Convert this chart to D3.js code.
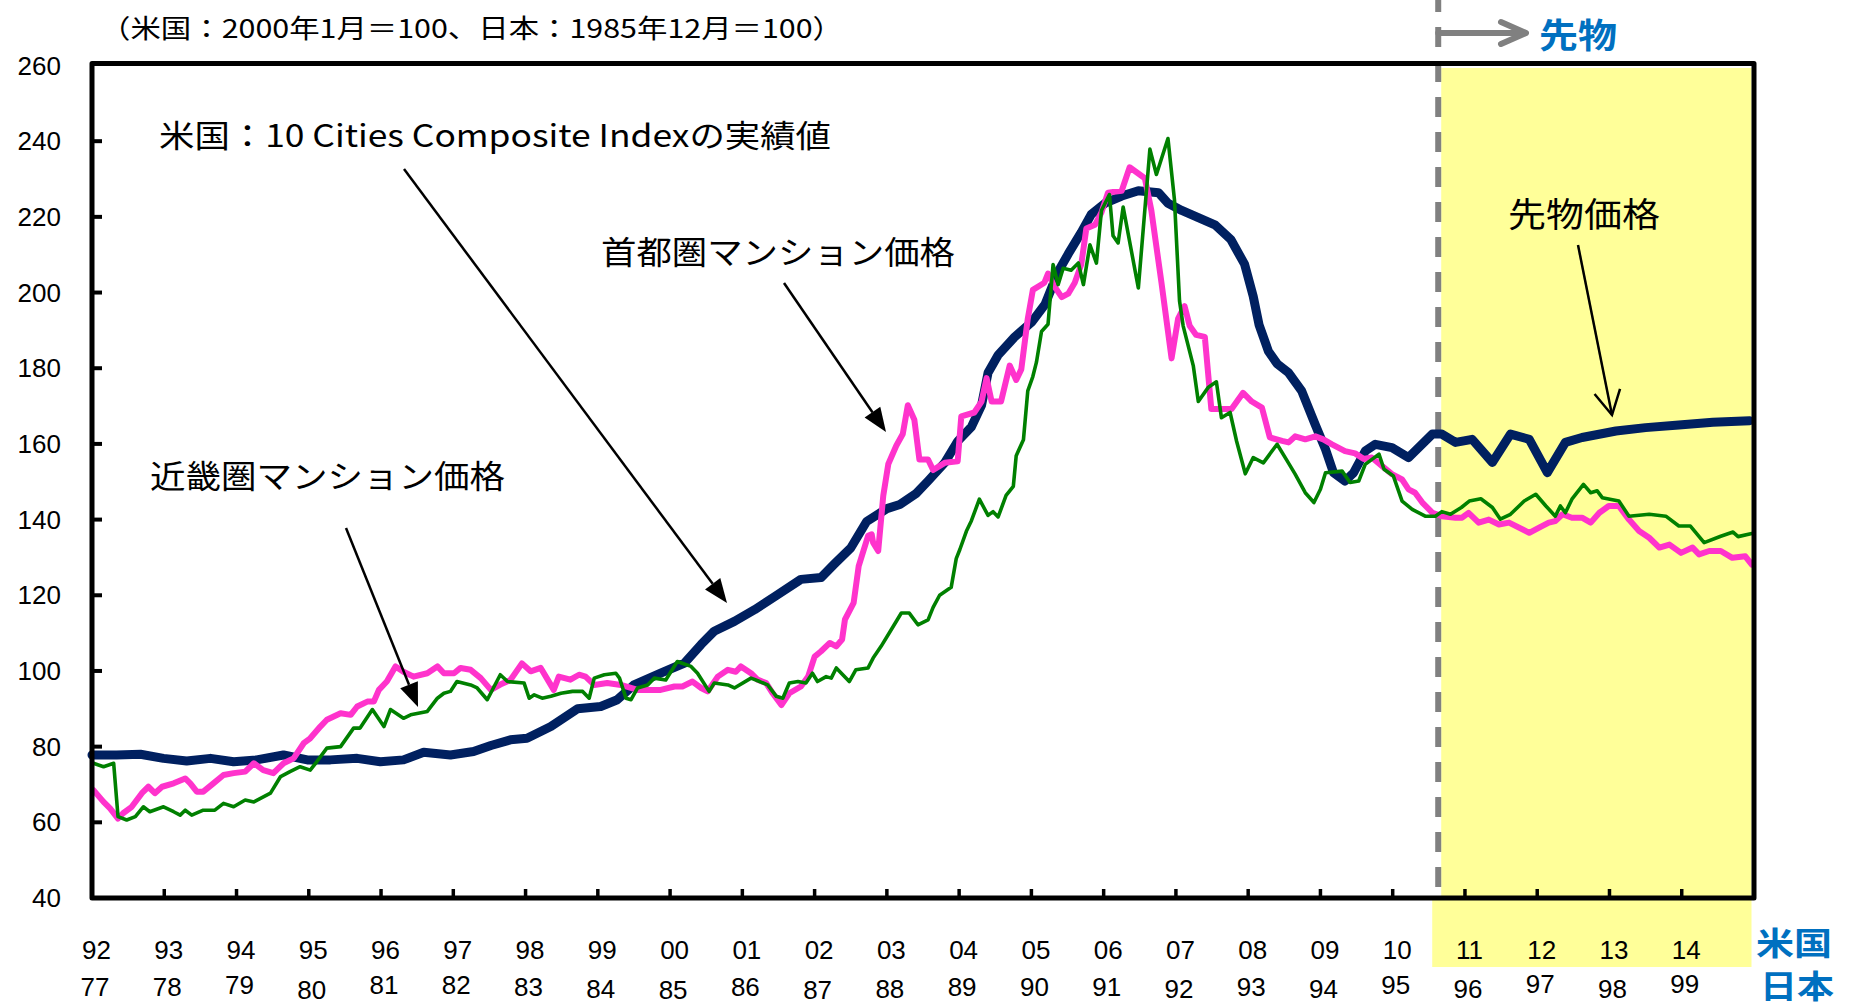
<!DOCTYPE html>
<html><head><meta charset="utf-8">
<script src="https://cdn.jsdelivr.net/npm/d3@7"></script>
<style>body{margin:0;background:#fff;} svg{display:block;}</style>
</head><body>
<svg id="chart" width="1849" height="1007"></svg>
<script>
// ---------------- DATA ----------------
// US: S&P/Case-Shiller 10 Cities Composite (2000-01 = 100), decimal year
const usYear = [1992.00,1992.34,1992.67,1992.99,1993.31,1993.64,1993.96,1994.28,1994.65,1994.98,1995.30,1995.67,1995.99,1996.31,1996.59,1996.96,1997.28,1997.52,1997.79,1998.02,1998.35,1998.72,1999.04,1999.27,1999.50,1999.87,2000.20,2000.43,2000.61,2000.89,2001.17,2001.45,2001.81,2002.09,2002.28,2002.50,2002.72,2003.00,2003.18,2003.40,2003.57,2003.80,2003.98,2004.17,2004.31,2004.40,2004.54,2004.77,2005.00,2005.19,2005.37,2005.51,2005.69,2005.83,2006.02,2006.25,2006.48,2006.76,2006.89,2007.08,2007.31,2007.54,2007.76,2007.95,2008.07,2008.15,2008.28,2008.40,2008.56,2008.74,2008.93,2009.07,2009.18,2009.34,2009.46,2009.62,2009.76,2009.99,2010.22,2010.55,2010.68,2010.87,2011.10,2011.38,2011.63,2011.89,2012.14,2012.39,2012.62,2013.09,2013.50,2013.96,2014.43,2014.94];
const usValue = [77.8,77.8,78.0,76.9,76.2,76.9,76.0,76.5,77.8,76.5,76.5,76.9,76.0,76.5,78.5,77.8,78.7,80.3,81.8,82.2,85.3,90.0,90.6,92.4,96.3,99.4,102.1,107.0,110.5,113.1,116.2,119.7,124.2,124.7,128.4,132.5,139.5,142.9,144.0,146.8,150.2,155.0,160.7,164.5,170.2,178.8,183.5,188.3,192.1,196.9,205.5,210.2,215.9,220.7,223.6,225.5,226.9,226.4,223.6,221.7,219.8,217.9,214.0,207.5,199.0,191.5,184.5,181.2,178.8,174.0,165.0,158.6,152.4,150.2,152.4,158.1,159.9,159.0,156.4,162.6,162.6,160.4,161.2,155.1,162.6,161.2,152.4,160.4,161.7,163.4,164.3,165.0,165.7,166.1];

// Japan: 首都圏マンション価格 (1985-12 = 100), plotted on the US time axis
const tokyoYear = [1992.02,1992.16,1992.25,1992.36,1992.43,1992.55,1992.69,1992.78,1992.87,1992.97,1993.13,1993.29,1993.36,1993.45,1993.54,1993.68,1993.82,1993.96,1994.12,1994.24,1994.37,1994.51,1994.65,1994.79,1994.93,1995.02,1995.16,1995.25,1995.44,1995.58,1995.67,1995.81,1995.90,1995.97,1996.08,1996.20,1996.31,1996.45,1996.64,1996.78,1996.87,1997.01,1997.10,1997.24,1997.38,1997.52,1997.65,1997.79,1997.95,1998.07,1998.21,1998.39,1998.46,1998.62,1998.74,1998.83,1998.95,1999.13,1999.32,1999.55,1999.87,2000.06,2000.17,2000.31,2000.43,2000.52,2000.66,2000.80,2000.91,2000.98,2001.12,2001.21,2001.33,2001.42,2001.54,2001.65,2001.81,2001.91,2002.00,2002.09,2002.21,2002.30,2002.38,2002.42,2002.54,2002.61,2002.74,2002.79,2002.81,2002.88,2002.95,2003.02,2003.13,2003.22,2003.29,2003.38,2003.45,2003.57,2003.64,2003.80,2003.98,2004.03,2004.21,2004.31,2004.38,2004.45,2004.58,2004.70,2004.79,2004.86,2004.95,2005.02,2005.18,2005.23,2005.32,2005.42,2005.51,2005.60,2005.69,2005.76,2005.88,2005.97,2006.06,2006.25,2006.36,2006.57,2006.66,2006.80,2006.94,2007.03,2007.12,2007.19,2007.28,2007.40,2007.49,2007.63,2007.77,2007.93,2008.05,2008.19,2008.30,2008.47,2008.56,2008.65,2008.79,2008.93,2009.04,2009.16,2009.34,2009.48,2009.60,2009.71,2009.85,2009.99,2010.13,2010.22,2010.31,2010.41,2010.55,2010.68,2010.87,2010.96,2011.05,2011.19,2011.33,2011.47,2011.61,2011.89,2012.02,2012.16,2012.25,2012.35,2012.48,2012.62,2012.74,2012.86,2012.99,2013.13,2013.27,2013.41,2013.55,2013.69,2013.83,2013.99,2014.15,2014.24,2014.38,2014.54,2014.70,2014.88,2014.97];
const tokyoValue = [68.5,65.4,63.7,61.0,62.4,64.1,67.7,69.4,67.7,69.4,70.3,71.6,70.3,68.1,68.1,70.3,72.5,73.0,73.4,75.6,73.8,73.0,75.6,76.9,80.9,82.2,85.3,87.1,88.8,88.4,90.6,91.9,91.9,95.0,97.2,101.2,99.8,98.5,99.4,101.2,99.4,99.4,100.8,100.3,98.1,95.0,96.4,97.6,102.0,99.9,100.8,95.0,98.5,97.7,99.0,98.5,96.3,96.8,96.3,95.0,95.0,95.9,95.9,97.2,95.5,94.6,98.5,100.3,99.8,101.2,99.4,97.7,96.8,94.1,91.0,94.1,95.9,98.5,103.8,105.2,107.4,106.5,108.3,113.6,118.0,127.7,135.7,136.1,133.9,131.7,146.3,154.7,159.5,162.6,170.2,166.4,155.9,155.9,153.1,155.0,155.4,167.3,168.3,171.2,177.4,171.2,171.2,180.7,176.9,179.7,193.1,200.7,202.6,205.0,201.6,198.8,199.7,202.6,207.4,216.9,217.9,221.2,226.4,226.9,233.1,230.2,221.7,202.6,182.6,193.1,196.4,191.2,188.8,188.3,169.2,169.2,169.2,173.5,171.2,169.6,161.7,160.8,160.4,162.0,161.2,162.0,161.2,159.9,158.1,157.5,156.0,156.4,154.2,152.0,150.6,148.0,147.1,144.5,141.8,140.9,140.5,140.5,141.8,139.2,140.0,138.7,139.2,136.5,137.8,139.2,139.6,141.4,140.5,140.5,139.2,141.8,143.6,143.6,140.0,137.0,135.2,132.6,133.4,131.2,132.6,130.8,131.7,131.7,129.9,130.3,128.1];

// Japan: 近畿圏マンション価格 (1985-12 = 100)
const kinkiYear = [1992.02,1992.16,1992.30,1992.36,1992.48,1992.60,1992.71,1992.80,1992.99,1993.13,1993.22,1993.29,1993.38,1993.54,1993.70,1993.82,1993.96,1994.12,1994.24,1994.47,1994.61,1994.74,1994.88,1995.02,1995.11,1995.25,1995.44,1995.62,1995.71,1995.88,1996.04,1996.13,1996.31,1996.41,1996.64,1996.78,1996.87,1996.96,1997.05,1997.24,1997.33,1997.47,1997.65,1997.75,1997.98,1998.05,1998.12,1998.23,1998.35,1998.49,1998.65,1998.79,1998.88,1998.95,1999.09,1999.25,1999.30,1999.39,1999.46,1999.55,1999.69,1999.78,1999.94,2000.10,2000.29,2000.38,2000.54,2000.61,2000.80,2000.89,2001.12,2001.24,2001.35,2001.47,2001.56,2001.65,2001.77,2001.88,2001.97,2002.04,2002.16,2002.23,2002.30,2002.39,2002.48,2002.57,2002.74,2002.81,2002.92,2003.06,2003.20,2003.31,2003.43,2003.57,2003.64,2003.73,2003.89,2003.96,2004.01,2004.10,2004.17,2004.28,2004.40,2004.47,2004.54,2004.65,2004.75,2004.79,2004.89,2004.95,2005.02,2005.07,2005.14,2005.23,2005.30,2005.37,2005.44,2005.55,2005.65,2005.72,2005.81,2005.90,2005.97,2006.08,2006.13,2006.20,2006.27,2006.48,2006.64,2006.73,2006.89,2006.98,2007.05,2007.10,2007.24,2007.31,2007.45,2007.56,2007.63,2007.75,2007.84,2007.96,2008.07,2008.21,2008.40,2008.54,2008.65,2008.79,2008.91,2009.00,2009.07,2009.30,2009.41,2009.53,2009.62,2009.81,2009.88,2010.01,2010.13,2010.27,2010.45,2010.59,2010.68,2010.80,2010.95,2011.06,2011.22,2011.38,2011.49,2011.63,2011.82,2011.98,2012.12,2012.25,2012.32,2012.39,2012.48,2012.64,2012.74,2012.83,2012.90,2013.13,2013.27,2013.55,2013.78,2013.96,2014.12,2014.31,2014.54,2014.71,2014.78,2014.97];
const kinkiValue = [75.6,74.7,75.6,61.5,60.6,61.5,64.1,62.8,64.1,62.8,61.9,63.2,61.9,63.2,63.2,65.0,64.1,65.9,65.4,67.7,72.1,73.4,74.7,73.8,76.0,79.6,80.0,84.9,84.9,89.8,85.3,89.8,87.5,88.4,89.3,92.8,94.1,94.6,97.2,96.3,95.5,92.4,99.0,97.2,96.8,92.8,93.7,92.8,93.3,94.1,94.6,94.6,92.8,98.1,99.0,99.4,98.1,92.8,92.4,95.5,96.3,98.1,97.6,102.5,101.2,99.4,94.6,96.8,96.3,95.5,98.1,97.2,96.3,93.3,92.8,96.8,97.2,96.8,99.4,97.2,98.5,98.1,100.8,99.0,97.2,100.3,100.8,103.4,106.5,110.9,115.3,115.3,112.2,113.5,116.8,120.0,122.1,129.7,132.1,136.9,139.7,145.4,141.1,142.1,140.7,146.4,148.8,156.9,161.1,174.0,177.8,181.6,189.7,191.6,207.4,202.1,206.4,205.9,207.8,202.1,212.6,207.8,221.7,225.9,215.0,213.1,222.6,201.2,237.9,231.2,240.7,224.5,197.8,191.2,180.7,171.2,175.0,176.4,166.9,168.3,160.7,152.1,156.4,155.0,159.9,155.5,152.0,147.1,144.5,148.0,152.4,152.8,149.8,150.2,154.6,157.3,153.3,151.5,144.9,142.7,140.9,140.9,142.1,141.4,143.2,144.9,145.5,143.2,140.1,141.4,144.9,146.7,143.6,140.9,143.6,141.8,145.4,149.3,147.1,147.6,145.8,144.9,140.9,141.4,140.9,138.3,138.3,133.9,135.6,136.7,135.5,136.3];

const yTickValues = [40,60,80,100,120,140,160,180,200,220,240,260];
const tickYears = [1992,1993,1994,1995,1996,1997,1998,1999,2000,2001,2002,2003,2004,2005,2006,2007,2008,2009,2010,2011,2012,2013,2014];
const usTickLabels = ["92","93","94","95","96","97","98","99","00","01","02","03","04","05","06","07","08","09","10","11","12","13","14"];
const jpTickLabels = ["77","78","79","80","81","82","83","84","85","86","87","88","89","90","91","92","93","94","95","96","97","98","99"];
const futuresStart = 2010.63;   // start of futures prices (dashed line)
const xDomain = [1992, 2015];
const yDomain = [40, 260];

// ---------------- LAYOUT / STYLE ----------------
const jpLabelShift = [0,0,-2,3,-2,-2,0,2,3,0,3,2,0,0,0,2,0,2,-2,2,-3,2,-3];
const svg = d3.select("#chart");
const x = d3.scaleLinear().domain(xDomain).range([92, 1754]);
const y = d3.scaleLinear().domain(yDomain).range([898, 65.5]);
const numFont = "'Liberation Sans', Arial, sans-serif";
const jpFont = "'Noto Sans CJK JP', 'Noto Sans', sans-serif";
const blue = "#0070C0";

// yellow futures region
svg.append("rect")
  .attr("x", x(futuresStart) + 3).attr("y", y(260) + 2.5)
  .attr("width", x(2015) - 2.5 - (x(futuresStart) + 3))
  .attr("height", y(40) - y(260) - 2.5)
  .attr("fill", "#FFFF99");
svg.append("rect")
  .attr("x", x(futuresStart) - 6).attr("y", y(40))
  .attr("width", x(2015) - 2.5 - (x(futuresStart) - 6))
  .attr("height", 967 - y(40))
  .attr("fill", "#FFFF99");

// dashed divider line
svg.append("line")
  .attr("x1", x(futuresStart)).attr("x2", x(futuresStart))
  .attr("y1", -8).attr("y2", y(40))
  .attr("stroke", "#808080").attr("stroke-width", 6)
  .attr("stroke-dasharray", "20,15");

// series
const line = d3.line().x(d => x(d[0])).y(d => y(d[1]));
const series = [
  {yrs: usYear, vals: usValue, color: "#002060", w: 9},
  {yrs: tokyoYear, vals: tokyoValue, color: "#FF33CC", w: 6},
  {yrs: kinkiYear, vals: kinkiValue, color: "#008000", w: 3.6}
];
series.forEach(s => {
  const pts = s.yrs.map((t, i) => [t, s.vals[i]]);
  svg.append("path").datum(pts)
    .attr("d", line)
    .attr("fill", "none")
    .attr("stroke", s.color)
    .attr("stroke-width", s.w)
    .attr("stroke-linejoin", "round")
    .attr("stroke-linecap", "round");
});

// frame
svg.append("path")
  .attr("d", `M${x(1992)},${y(260)-2}H${x(2015)}V${y(40)}H${x(1992)}Z`)
  .attr("fill", "none").attr("stroke", "#000").attr("stroke-width", 5)
  .attr("stroke-linejoin", "round");

// left ticks (inward)
svg.selectAll(".yt").data(yTickValues.filter(v => v > 40 && v < 260)).enter()
  .append("line")
  .attr("x1", x(1992)).attr("x2", x(1992) + 10)
  .attr("y1", d => y(d)).attr("y2", d => y(d))
  .attr("stroke", "#000").attr("stroke-width", 4);
// y labels
svg.selectAll(".yl").data(yTickValues).enter()
  .append("text")
  .attr("x", 61).attr("y", d => y(d))
  .attr("dy", "0.35em")
  .attr("text-anchor", "end")
  .attr("font-family", numFont).attr("font-size", 26)
  .text(d => d);

// bottom ticks (inward)
svg.selectAll(".xt").data(tickYears.slice(1)).enter()
  .append("line")
  .attr("x1", d => x(d)).attr("x2", d => x(d))
  .attr("y1", y(40)).attr("y2", y(40) - 9)
  .attr("stroke", "#000").attr("stroke-width", 3.5);

// x labels
svg.selectAll(".xl1").data(tickYears).enter()
  .append("text")
  .attr("x", d => x(d) + 4.5).attr("y", 950).attr("dy", "0.35em")
  .attr("text-anchor", "middle")
  .attr("font-family", numFont).attr("font-size", 26)
  .text((d, i) => usTickLabels[i]);
svg.selectAll(".xl2").data(tickYears).enter()
  .append("text")
  .attr("x", d => x(d) + 3).attr("y", (d, i) => 987 + jpLabelShift[i]).attr("dy", "0.35em")
  .attr("text-anchor", "middle")
  .attr("font-family", numFont).attr("font-size", 26)
  .text((d, i) => jpTickLabels[i]);

// text helper
function jpText(str, x0, cy, size, len, opts = {}) {
  const t = svg.append("text")
    .attr("x", x0).attr("y", cy)
    .attr("dominant-baseline", "central")
    .attr("font-family", jpFont).attr("font-size", size)
    .attr("fill", opts.fill || "#000")
    .attr("font-weight", opts.bold ? "bold" : "normal")
    .text(str);
  if (len) t.attr("textLength", len).attr("lengthAdjust", "spacingAndGlyphs");
  return t;
}
// country labels
jpText("米国", 1756, 941, 32, 76, {fill: blue, bold: true});
jpText("日本", 1760, 984, 32, 74, {fill: blue, bold: true});

// title
jpText("（米国：2000年1月＝100、日本：1985年12月＝100）", 100, 26, 26, 743);

// futures header
jpText("先物", 1539, 33, 34, 78, {fill: blue, bold: true});
svg.append("line")
  .attr("x1", x(futuresStart)).attr("x2", 1525).attr("y1", 33).attr("y2", 33)
  .attr("stroke", "#808080").attr("stroke-width", 6).attr("stroke-linecap", "round");
svg.append("path")
  .attr("d", "M1501,22L1526,33L1501,44")
  .attr("fill", "none").attr("stroke", "#808080").attr("stroke-width", 6)
  .attr("stroke-linecap", "round").attr("stroke-linejoin", "round");

// annotations
jpText("米国：10 Cities Composite Indexの実績値", 159, 133, 31, 672);
jpText("首都圏マンション価格", 601, 250, 32, 354);
jpText("近畿圏マンション価格", 150, 474, 32, 355);
jpText("先物価格", 1508, 212, 34, 152);

function arrowFilled(x1, y1, x2, y2) {
  const len = 24, half = 9.5;
  const a = Math.atan2(y2 - y1, x2 - x1);
  const bx = x2 - len * Math.cos(a), by = y2 - len * Math.sin(a);
  svg.append("line").attr("x1", x1).attr("y1", y1).attr("x2", bx).attr("y2", by)
    .attr("stroke", "#000").attr("stroke-width", 2.5);
  const p = [[x2, y2],
    [bx + half * Math.sin(a), by - half * Math.cos(a)],
    [bx - half * Math.sin(a), by + half * Math.cos(a)]];
  svg.append("path").attr("d", "M" + p.map(q => q.join(",")).join("L") + "Z").attr("fill", "#000");
}
arrowFilled(404, 169, 727, 603);
arrowFilled(784, 283, 886, 432);
arrowFilled(346, 528, 418, 707);

// futures arrow (open head)
(function () {
  const x1 = 1578, y1 = 245, x2 = 1612, y2 = 415;
  svg.append("line").attr("x1", x1).attr("y1", y1).attr("x2", x2).attr("y2", y2)
    .attr("stroke", "#000").attr("stroke-width", 2.5);
  const a = Math.atan2(y2 - y1, x2 - x1), len = 24, half = 13;
  const bx = x2 - len * Math.cos(a), by = y2 - len * Math.sin(a);
  svg.append("path")
    .attr("d", `M${bx + half * Math.sin(a)},${by - half * Math.cos(a)}L${x2},${y2}L${bx - half * Math.sin(a)},${by + half * Math.cos(a)}`)
    .attr("fill", "none").attr("stroke", "#000").attr("stroke-width", 2.5);
})();
</script>
</body></html>
